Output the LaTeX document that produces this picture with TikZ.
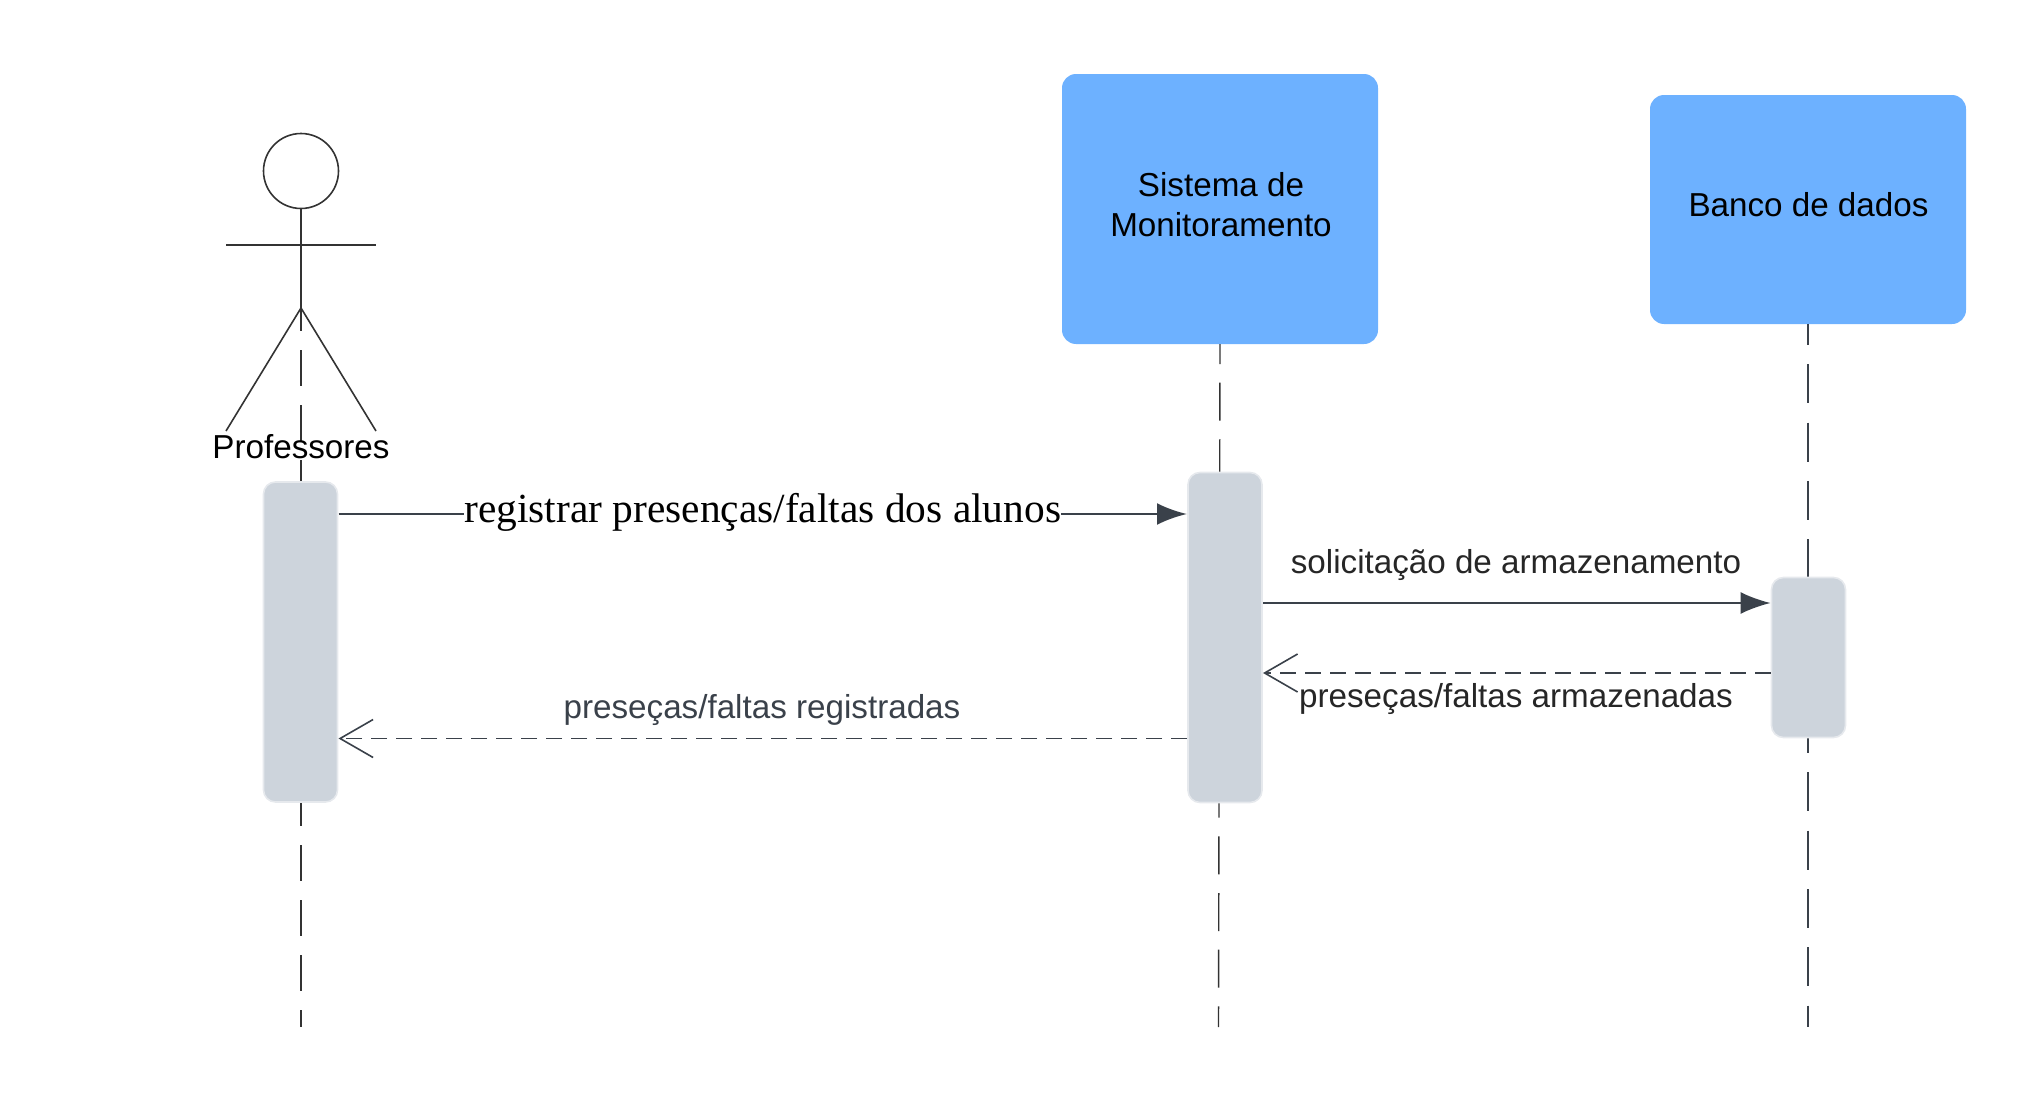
\documentclass[tikz,border=0pt]{standalone}
\usepackage{fontspec}
\usepackage{xcolor}
\usepackage{tikz}
\usetikzlibrary{arrows.meta}
\setmainfont{Liberation Sans}
\newfontfamily\serifmsg{Liberation Serif}
\definecolor{linecol}{HTML}{3A414A}
\definecolor{darkline}{HTML}{333333}
\definecolor{boxblue}{HTML}{6DB1FF}
\definecolor{ativfill}{HTML}{CDD4DC}
\definecolor{ativedge}{HTML}{E6E9ED}

\begin{document}
\begin{tikzpicture}[x=0.5pt,y=-0.5pt,
    main box/.style={rectangle,fill=boxblue,rounded corners=7pt,minimum width=158pt,outer sep=0pt,align=center,text=black,font=\fontsize{16.6}{20}\selectfont},
    ativ/.style={rectangle,draw=ativedge,line width=0.8pt,fill=ativfill,rounded corners=6pt,minimum width=37pt,inner sep=0pt,outer sep=0.5pt},
    vida/.style={color=darkline,line width=0.85pt},
    msg/.style={color=linecol,line width=1.4pt,-{Latex[length=15pt,width=11pt]}},
    volta/.style={color=linecol,line width=0.8pt,dash pattern=on 8pt off 4.5pt,-{Straight Barb[length=16.5pt,width=19pt,line width=0.8pt]}},
    ator/.style={draw=darkline,line width=0.8pt},
    rotulo/.style={inner sep=0pt,font=\fontsize{16.6}{20}\selectfont}]
  \useasboundingbox (0,0) rectangle (2042,1103);
  % caixas
  \node[main box,minimum height=135pt] (sistema) at (1220,209) {};
  \node[inner sep=0pt,align=center,font=\fontsize{16.6}{20}\selectfont] (sistematxt) at (1221,205) {Sistema de\\Monitoramento};
  \node[main box,minimum height=114.5pt] (banco) at (1808,209.5) {};
  \node[font=\fontsize{16.6}{20}\selectfont,inner sep=0pt] (bancotxt) at (1808.5,205) {Banco de dados};
  % ator
  \node[circle,ator,minimum size=37.5pt,inner sep=0pt,outer sep=0pt] (cabeca) at (301,171) {};
  \coordinate (quadril) at (301,308);
  \coordinate (maoesq) at (226,245);
  \coordinate (maodir) at (376,245);
  \coordinate (peesq) at (226,431);
  \coordinate (pedir) at (376,431);
  \coordinate (fimprof) at (301,1027);
  \coordinate (fimsis) at (1218.5,1027);
  \coordinate (fimbanco) at (1808,1027);
  \path[ator]
    (cabeca) edge (quadril)
    (maoesq) edge (maodir)
    (quadril) edge (peesq)
    (quadril) edge (pedir);
  % linhas de vida
  \draw[vida,dash pattern=on 18pt off 9.5pt,dash phase=6.5pt] (quadril) -- (fimprof);
  \draw[vida,line width=0.7pt,dash pattern=on 19pt off 9.35pt,dash phase=9pt] (sistema.south) -- (fimsis);
  \draw[vida,color=linecol,dash pattern=on 19.5pt off 9.65pt,dash phase=9pt] (banco.south) -- (fimbanco);
  \node[inner sep=0pt,text=black,font=\fontsize{16.6}{20}\selectfont] (prof) at (301,447) {Professores};
  % ativacoes
  \node[ativ,minimum height=160pt] (ativprof) at (300.5,642) {};
  \node[ativ,minimum height=165pt] (ativsis) at (1225,637.5) {};
  \node[ativ,minimum height=80pt] (ativbanco) at (1808.5,657.5) {};
  % mensagens
  \draw[msg] (ativprof.east |- 0,514) -- node[fill=white,inner sep=0pt,yshift=0.7pt,text=black,font=\serifmsg\fontsize{20.7}{24}\selectfont] (registrar) {registrar presenças/faltas dos alunos} (ativsis.west |- 0,514);
  \draw[msg,line width=0.9pt] (ativsis.east |- 0,603) -- (ativbanco.west |- 0,603);
  \node[rotulo,text=black!85] (solic) at (1516,564.5) {solicitação de armazenamento};
  \draw[volta] (ativbanco.west |- 0,673) -- (ativsis.east |- 0,673);
  \node[rotulo,text=black!85] (armaz) at (1516,699) {preseças/faltas armazenadas};
  \draw[volta] (ativsis.west |- 0,738.5) -- (ativprof.east |- 0,738.5);
  \node[rotulo,text=linecol] (regist) at (762,710) {preseças/faltas registradas};
\end{tikzpicture}
\end{document}
